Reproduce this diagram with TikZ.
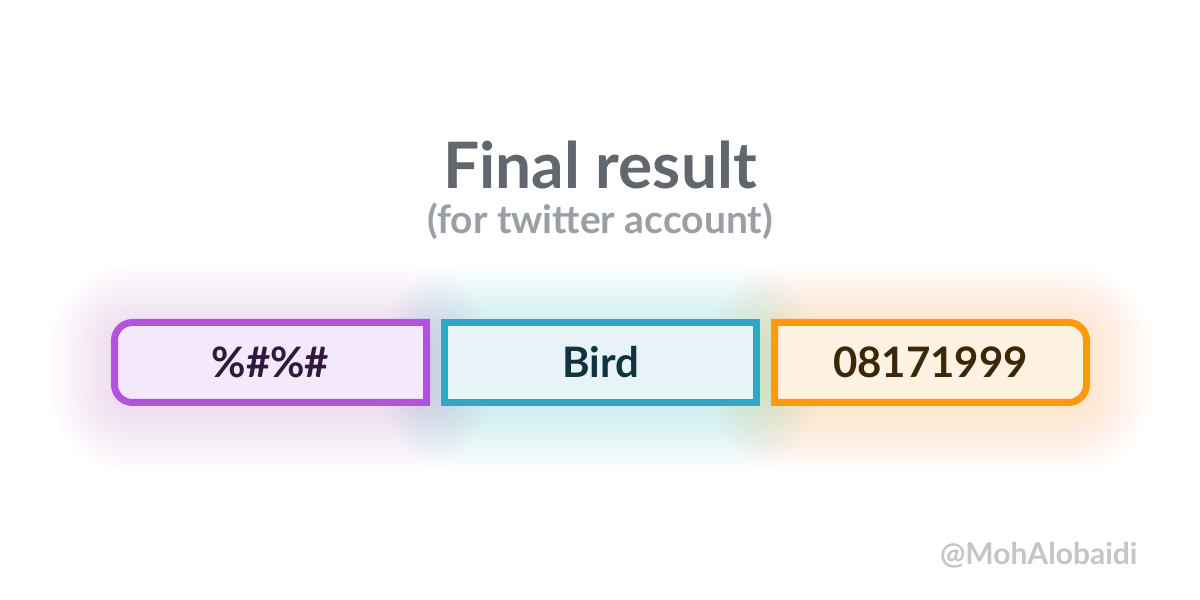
\documentclass[tikz,border=0pt]{standalone}
\usepackage{fontspec}
\setmainfont{Lato}
\usetikzlibrary{positioning, backgrounds, calc}
\definecolor{titlegray}{HTML}{62676E}
\definecolor{subgray}{HTML}{9A9EA5}
\definecolor{markgray}{HTML}{C4C5C7}
\definecolor{symline}{HTML}{B054DE}
\definecolor{symfill}{HTML}{F4E8FB}
\definecolor{symtext}{HTML}{30183F}
\definecolor{wordline}{HTML}{2FA9C3}
\definecolor{wordfill}{HTML}{E7F3F7}
\definecolor{wordtext}{HTML}{0F343F}
\definecolor{numline}{HTML}{FF9A0A}
\definecolor{numfill}{HTML}{FEF3E3}
\definecolor{numtext}{HTML}{3D2709}
\tikzset{
  x=0.5pt, y=0.5pt,
  every node/.style={align=center}
}

\begin{document}
\begin{tikzpicture}
\tikzstyle{field}=[rectangle, minimum width=156pt, minimum height=40pt,
  inner sep=0pt, outer sep=0pt, text height=15.1pt, text depth=0pt,
  font=\fontsize{21}{25}\selectfont\bfseries]
\tikzstyle{frame}=[line width=3.5pt]
\tikzstyle{glow}=[opacity=0.011]

\useasboundingbox (0,0) rectangle (1200,600);

% heading
\node[anchor=base, inner sep=0pt, text depth=0pt, text=titlegray,
  font=\fontsize{32}{38}\selectfont\bfseries](title) at (600,411){Final result};
\node[anchor=base, inner sep=0pt, text height=14pt, text=subgray,
  font=\fontsize{19.5}{23}\selectfont\bfseries](subtitle) at (600,366){(for twitter account)};

% fields
\node[field, text=symtext](sym) at (270.5,237.5){\%\#\%\#};
\node[field, text=wordtext, right=9pt of sym](word){Bird};
\node[field, text=numtext, right=9pt of word](num){08171999};

% watermark
\node[anchor=base west, text=markgray, font=\fontsize{15}{18}\selectfont\bfseries](mark)
  at (933,35){@MohAlobaidi};

\begin{scope}[on background layer]
\fill[white] (0,0) rectangle (1200,600);

% glow
\foreach \n/\c in {sym/symline, word/wordline, num/numline}{
  \foreach \i in {1,...,16}{
    \pgfmathsetmacro\rr{9+2*\i}
    \pgfmathsetmacro\dd{2*\i}
    \fill[glow, \c, rounded corners=\rr pt]
      ([shift={(-\dd pt,-\dd pt-3pt)}]\n.south west) rectangle
      ([shift={(\dd pt,\dd pt-3pt)}]\n.north east);
  }
}

% box 1
\filldraw[frame, draw=symline, fill=symfill] (sym.north east)
  -- ([xshift=9pt]sym.north west) arc[start angle=90, end angle=180, radius=9pt]
  -- ([yshift=9pt]sym.south west) arc[start angle=180, end angle=270, radius=9pt]
  -- (sym.south east) -- cycle;

% box 2
\filldraw[frame, draw=wordline, fill=wordfill] (word.south west) rectangle (word.north east);

% box 3
\filldraw[frame, draw=numline, fill=numfill] (num.north west)
  -- ([xshift=-9pt]num.north east) arc[start angle=90, end angle=0, radius=9pt]
  -- ([yshift=9pt]num.south east) arc[start angle=0, end angle=-90, radius=9pt]
  -- (num.south west) -- cycle;
\end{scope}

\end{tikzpicture}
\end{document}
